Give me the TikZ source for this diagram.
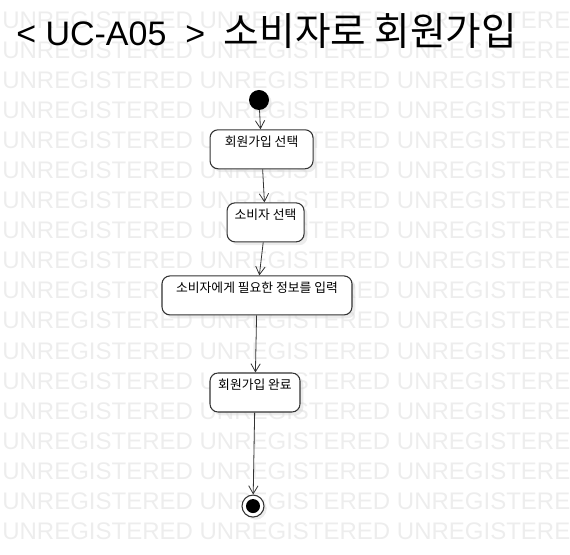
\documentclass[tikz,border=0pt]{standalone}
\usepackage{fontspec}
\setmainfont{Liberation Sans}
\newfontfamily\kr{Noto Sans CJK KR}
\usepackage{xcolor}
\definecolor{wmgray}{rgb}{0.93, 0.93, 0.93}
\definecolor{linegray}{rgb}{0.2, 0.2, 0.2}
\definecolor{shadowgray}{rgb}{0.85, 0.85, 0.85}
\usetikzlibrary{arrows.meta,positioning,shadows}
\tikzset{
  >={Straight Barb[length=6pt,width=7pt]},
  watermark/.style={anchor=base west,inner sep=0pt,text=wmgray,font=\fontsize{18}{18}\selectfont},
  title/.style={anchor=base west,inner sep=0pt,font=\fontsize{25.5}{26}\selectfont},
  start/.style={circle,fill=black,minimum size=15pt,inner sep=0pt,drop shadow={shadow xshift=2pt,shadow yshift=-2pt,fill=shadowgray}},
  activity/.style={rectangle,draw=linegray,fill=white,rounded corners=6pt,line width=0.8pt,
    inner xsep=2pt,inner ysep=3pt,text height=9.5pt,text depth=13.75pt,
    font=\kr\fontsize{9.6}{11}\selectfont,
    drop shadow={shadow xshift=2.5pt,shadow yshift=-2.5pt,fill=shadowgray}},
  final/.style={circle,draw=linegray,fill=white,line width=0.8pt,minimum size=16.5pt,inner sep=0pt,
    path picture={\fill[black] (path picture bounding box.center) circle (5.25pt);},
    drop shadow={shadow xshift=2pt,shadow yshift=-2pt,fill=shadowgray}},
  flow/.style={->,line width=0.6pt,draw=linegray}
}

\begin{document}
\begin{tikzpicture}[node distance=1cm]
  \useasboundingbox (0,0) rectangle (427.5pt,-416.25pt);

  % Watermark rows
  \begin{scope}
    \clip (0,0) rectangle (427.5pt,-416.25pt);
    \foreach \k in {0,...,17}
      \node[watermark] (wm\k) at (1.5pt,{-21.75pt-22.5pt*\k}) {UNREGISTERED UNREGISTERED UNREGISTERED};
  \end{scope}

  % Title
  \node[title] (head) at (12pt,-34.5pt) {< UC-A05\ \ >\hspace{14pt}{\kr\fontsize{29}{30}\selectfont 소비자로 회원가입}};

  % Initial node
  \node[start] (init) at (194.25pt,-75pt) {};

  % Activities
  \node[activity,minimum width=77.25pt,below=14.25pt of init,xshift=1.9pt] (act1) {회원가입 선택};
  \node[activity,minimum width=57.75pt,below=24.75pt of act1,xshift=3pt] (act2) {소비자 선택};
  \node[activity,minimum width=142.5pt,below=24.75pt of act2,xshift=-6.4pt] (act3) {소비자에게 필요한 정보를 입력};
  \node[activity,minimum width=67.5pt,below=42.75pt of act3,xshift=-1.5pt] (act4) {회원가입 완료};

  % Final node
  \node[final,below=61.5pt of act4,xshift=-1.5pt] (fin) {};

  % Transitions
  \draw[flow] (init) -- (act1);
  \draw[flow] (act1) -- (act2);
  \draw[flow] (act2) -- (act3);
  \draw[flow] (act3) -- (act4);
  \draw[flow] (act4) -- (fin);
\end{tikzpicture}
\end{document}
